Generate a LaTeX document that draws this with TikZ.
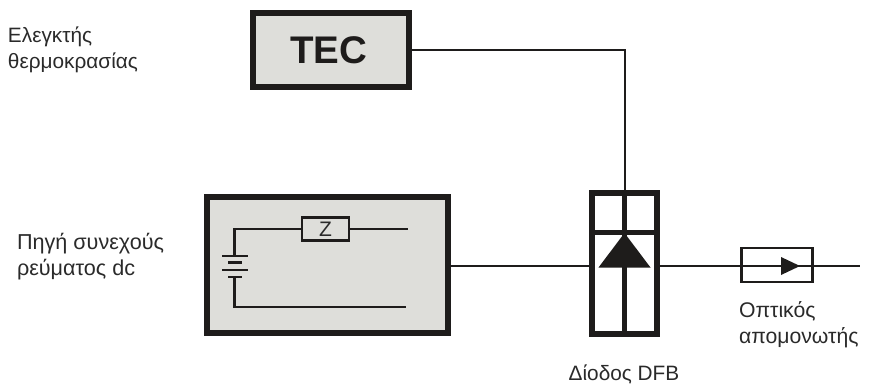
\documentclass[tikz,border=0pt]{standalone}
\usepackage{fontspec}
\setmainfont{Liberation Sans}
\definecolor{ink}{HTML}{1E1C1B}
\definecolor{panel}{HTML}{DEDEDA}
\definecolor{txt}{HTML}{2A2A2A}
\tikzset{
  every node/.style={outer sep=0pt},
  heavy/.style={draw=ink,line width=6pt,fill=panel},
  heavyempty/.style={draw=ink,line width=6pt,fill=white},
  wire/.style={draw=ink,line width=2.8pt},
  lbl/.style={text=txt,font=\fontsize{20.8}{26}\selectfont,align=left,anchor=west,inner sep=0pt},
  tip/.style={fill=ink,draw=none}
}
\begin{document}
\begin{tikzpicture}[x=1pt,y=-1pt]
\useasboundingbox (0,0) rectangle (877,387);
% TEC
\node[heavy,minimum width=156pt,minimum height=74pt,inner sep=0pt,anchor=north west] (tec) at (253,13) {};
\node[font=\fontsize{38.5}{42}\bfseries\selectfont,text=ink,inner sep=0pt] (tect) at (328.5,50) {TEC};
% DC source
\node[heavy,minimum width=241.5pt,minimum height=136pt,inner sep=0pt,anchor=north west] (dc) at (206.5,197) {};
% Z
\node[draw=ink,line width=2.8pt,fill=panel,minimum width=47pt,minimum height=23pt,inner sep=0pt,font=\fontsize{21}{24}\selectfont,text=txt] (z) at (325.5,229) {Z};
\coordinate (zr) at (408,229);
\coordinate (bt) at (234.5,256);
\coordinate (bb) at (234.5,277);
\coordinate (lr) at (406,307);
\draw[wire] (z.west) -| (bt);
\draw[wire] (z.east) -- (zr);
\draw[wire] (bb) |- (lr);
\coordinate (p1l) at (222,256); \coordinate (p1r) at (248,256);
\coordinate (p2l) at (228,262.5); \coordinate (p2r) at (242,262.5);
\coordinate (p3l) at (222,270); \coordinate (p3r) at (248,270);
\coordinate (p4l) at (228,277); \coordinate (p4r) at (242,277);
\draw[wire] (p1l) -- (p1r);
\draw[wire] (p2l) -- (p2r);
\draw[wire] (p3l) -- (p3r);
\draw[wire] (p4l) -- (p4r);
% DFB diode
\node[heavyempty,minimum width=65pt,minimum height=141pt,inner sep=0pt,anchor=north west] (dfb) at (592,193) {};
\coordinate (dt) at (624,193);
\coordinate (db) at (624,334);
\coordinate (hl) at (592,233);
\coordinate (hr) at (657,233);
\draw[draw=ink,line width=5pt] (dt) -- (db);
\draw[draw=ink,line width=5pt] (hl) -- (hr);
\coordinate (ta) at (624.5,233);
\coordinate (tl) at (598.5,267.5);
\coordinate (tr) at (650.5,267.5);
\fill[tip] (ta) -- (tl) -- (tr) -- cycle;
% wires
\coordinate (dl) at (592,266);
\coordinate (dr) at (657,266);
\coordinate (tt) at (625,193);
\draw[wire] (tec.east) -| (tt);
\coordinate (dce) at (448,266);
\draw[wire] (dce) -- (dl);
% isolator
\node[draw=ink,line width=2.6pt,minimum width=71pt,minimum height=34pt,inner sep=0pt] (iso) at (777,265) {};
\coordinate (out) at (860,266);
\draw[wire] (dr) -- (out);
\coordinate (i1) at (781,257);
\coordinate (i2) at (781,275);
\coordinate (i3) at (800,266);
\fill[tip] (i1) -- (i2) -- (i3) -- cycle;
% labels
\node[lbl] (l1) at (8,50) {Ελεγκτής\\θερμοκρασίας};
\node[lbl,font=\fontsize{21.6}{26}\selectfont] (l2) at (17,257) {Πηγή συνεχούς\\ρεύματος dc};
\node[lbl,font=\fontsize{21.2}{26}\selectfont] (l3) at (739,325) {Οπτικός\\απομονωτής};
\node[lbl,anchor=center] (l4) at (624,374) {Δίοδος DFB};
\end{tikzpicture}
\end{document}
